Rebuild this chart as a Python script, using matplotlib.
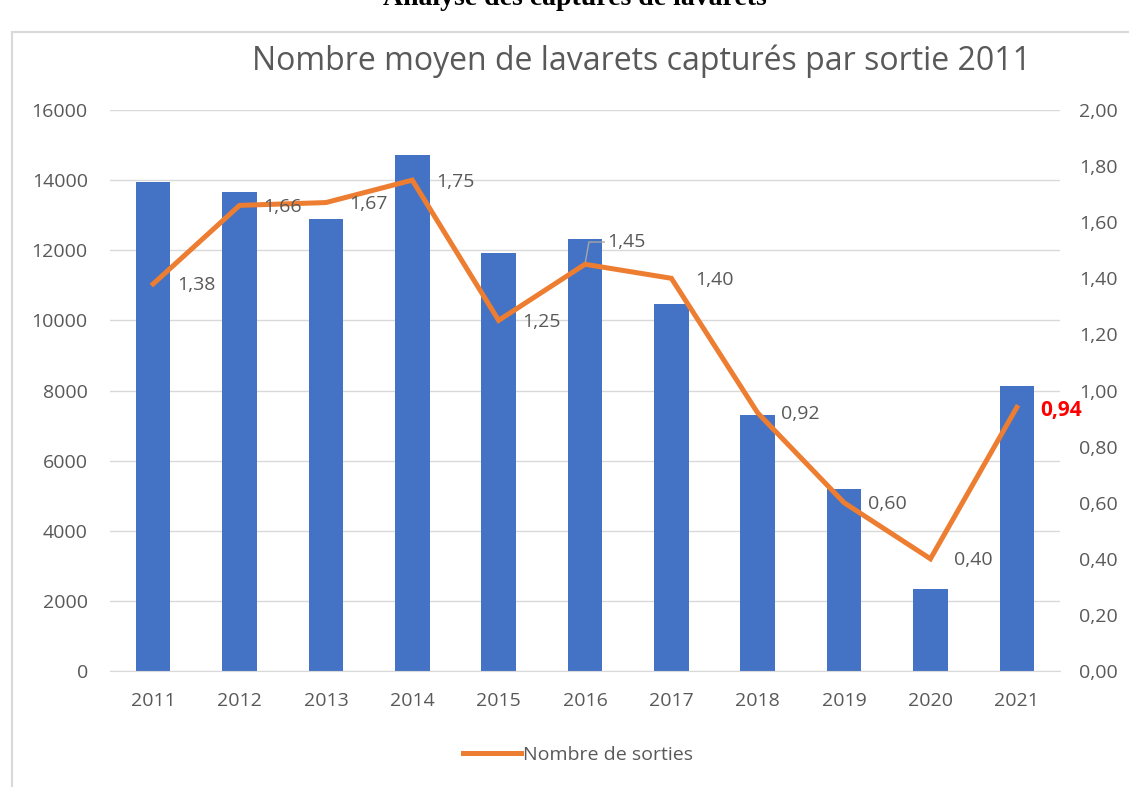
import matplotlib.pyplot as plt
from matplotlib.patches import Rectangle
from matplotlib.ticker import FuncFormatter

years = ["2011", "2012", "2013", "2014", "2015", "2016", "2017", "2018", "2019", "2020", "2021"]
captures = [13950, 13650, 12900, 14720, 11920, 12320, 10470, 7300, 5190, 2340, 8120]
sorties = [1.38, 1.66, 1.67, 1.75, 1.25, 1.45, 1.40, 0.92, 0.60, 0.40, 0.94]

font = ["Open Sans", "DejaVu Sans"]
plt.rcParams['font.family'] = font
grey = "#595959"

fig = plt.figure(figsize=(11.29, 7.87), dpi=100)

# chart border (light grey frame)
fig.patches.append(Rectangle((12 / 1129, -0.05), 1.1, 1 - 32 / 787 + 0.05,
                             transform=fig.transFigure, fill=False,
                             edgecolor="#d9d9d9", linewidth=1.5))

# heading above the chart, cut off by the top edge like in the source
fig.text(575 / 1129, 1 - 5 / 787, "Analyse des captures de lavarets",
         ha="center", va="baseline", fontsize=20, fontweight="bold",
         family=["Liberation Serif", "DejaVu Serif"])

ax = fig.add_axes([110 / 1129, 116 / 787, 950 / 1129, 561 / 787])
x = list(range(len(years)))
ax.bar(x, captures, width=0.4, color="#4472C4", zorder=2)
ax.set_xlim(-0.5, len(years) - 0.5)
ax.set_ylim(0, 16000)
ax.set_yticks(range(0, 16001, 2000))
ax.set_xticks(x)
ax.set_xticklabels(years)
ax.grid(axis="y", color="#d9d9d9", linewidth=1, zorder=0)
for s in ["top", "right", "left"]:
    ax.spines[s].set_visible(False)
ax.spines["bottom"].set_color("#d9d9d9")
ax.tick_params(axis="both", length=0, labelsize=14, labelcolor=grey)
ax.tick_params(axis="x", pad=15)
ax.tick_params(axis="y", pad=16)

ax2 = ax.twinx()
ax2.set_ylim(0, 2.0)
ax2.set_yticks([i * 0.2 for i in range(11)])
ax2.yaxis.set_major_formatter(FuncFormatter(lambda v, p: f"{v:.2f}".replace(".", ",")))
for s in ax2.spines.values():
    s.set_visible(False)
ax2.tick_params(axis="y", length=0, labelsize=14, labelcolor=grey, pad=14)
ax2.plot(x, sorties, color="#ED7D31", linewidth=3.6, solid_joinstyle="miter",
         label="Nombre de sorties", zorder=3)

for i, v in enumerate(sorties):
    txt = f"{v:.2f}".replace(".", ",")
    if i == 5:
        ax2.annotate(txt, (i, v), xytext=(16, 16), textcoords="offset points",
                     ha="left", va="center", fontsize=14, color=grey,
                     arrowprops=dict(arrowstyle="-", color="#a6a6a6", lw=1,
                                     shrinkA=0, shrinkB=2,
                                     connectionstyle="angle,angleA=0,angleB=80,rad=0"))
    elif i == len(sorties) - 1:
        ax2.annotate(txt, (i, v), xytext=(17, -2), textcoords="offset points",
                     ha="left", va="center", fontsize=15, color="red",
                     fontweight="bold")
    else:
        ax2.annotate(txt, (i, v), xytext=(17, -1), textcoords="offset points",
                     ha="left", va="center", fontsize=14, color=grey)

fig.text(642 / 1129, 1 - 61 / 787, "Nombre moyen de lavarets capturés par sortie 2011",
         ha="center", va="center", fontsize=23, color=grey)

fig.legend(handles=ax2.get_lines(), loc="center", bbox_to_anchor=(578 / 1129, 1 - 755 / 787),
           frameon=False, fontsize=14, labelcolor=grey, handlelength=3.0,
           handletextpad=0.1)

fig.savefig("out.png", dpi=100)
